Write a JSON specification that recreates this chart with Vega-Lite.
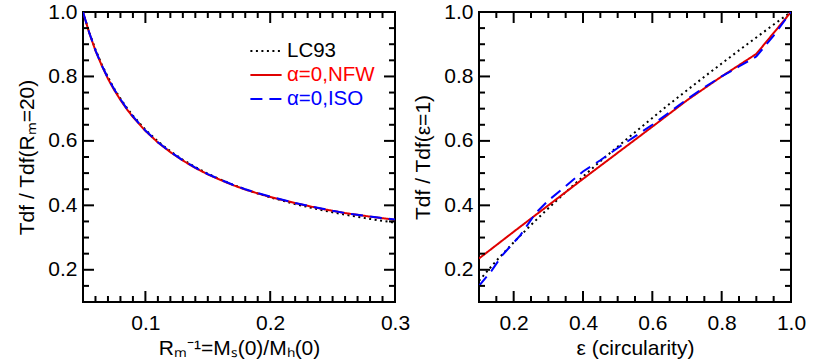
{
  "$schema": "https://vega.github.io/schema/vega-lite/v6.json",
  "background": "white",
  "padding": {"left": 15, "top": 0, "right": 0, "bottom": 0},
  "config": {
    "font": "Liberation Sans",
    "view": {"stroke": "black", "strokeWidth": 2},
    "axis": {
      "domain": false, "ticks": false, "grid": false,
      "labelFontSize": 21, "labelColor": "black", "labelFont": "Liberation Sans",
      "titleFontSize": 21, "titleFontWeight": "normal", "titleColor": "black", "titleFont": "Liberation Sans",
      "labelFlush": false, "labelOverlap": false, "format": ".1f"
    },
    "legend": {"labelFont": "Liberation Sans"}
  },
  "datasets": {
    "tA": [
      {"v": 0.2, "kind": "major"}, {"v": 0.4, "kind": "major"}, {"v": 0.6, "kind": "major"}, {"v": 0.8, "kind": "major"},
      {"v": 0.15, "kind": "minor"}, {"v": 0.25, "kind": "minor"}, {"v": 0.3, "kind": "minor"}, {"v": 0.35, "kind": "minor"}, {"v": 0.45, "kind": "minor"}, {"v": 0.5, "kind": "minor"}, {"v": 0.55, "kind": "minor"}, {"v": 0.65, "kind": "minor"}, {"v": 0.7, "kind": "minor"}, {"v": 0.75, "kind": "minor"}, {"v": 0.85, "kind": "minor"}, {"v": 0.9, "kind": "minor"}, {"v": 0.95, "kind": "minor"}
    ],
    "tB": [
      {"v": 0.1, "kind": "major"}, {"v": 0.2, "kind": "major"},
      {"v": 0.06, "kind": "minor"}, {"v": 0.07, "kind": "minor"}, {"v": 0.08, "kind": "minor"}, {"v": 0.09, "kind": "minor"}, {"v": 0.11, "kind": "minor"}, {"v": 0.12, "kind": "minor"}, {"v": 0.13, "kind": "minor"}, {"v": 0.14, "kind": "minor"}, {"v": 0.15, "kind": "minor"}, {"v": 0.16, "kind": "minor"}, {"v": 0.17, "kind": "minor"}, {"v": 0.18, "kind": "minor"}, {"v": 0.19, "kind": "minor"}, {"v": 0.21, "kind": "minor"}, {"v": 0.22, "kind": "minor"}, {"v": 0.23, "kind": "minor"}, {"v": 0.24, "kind": "minor"}, {"v": 0.25, "kind": "minor"}, {"v": 0.26, "kind": "minor"}, {"v": 0.27, "kind": "minor"}, {"v": 0.28, "kind": "minor"}, {"v": 0.29, "kind": "minor"}
    ],
    "left": [
      {"x": 0.05, "y": 1.0, "series": "LC93"}, {"x": 0.055, "y": 0.937, "series": "LC93"}, {"x": 0.06, "y": 0.8835, "series": "LC93"}, {"x": 0.065, "y": 0.8375, "series": "LC93"}, {"x": 0.07, "y": 0.7975, "series": "LC93"}, {"x": 0.075, "y": 0.7623, "series": "LC93"}, {"x": 0.08, "y": 0.7311, "series": "LC93"}, {"x": 0.085, "y": 0.7032, "series": "LC93"}, {"x": 0.09, "y": 0.6782, "series": "LC93"}, {"x": 0.1, "y": 0.6348, "series": "LC93"}, {"x": 0.11, "y": 0.5987, "series": "LC93"}, {"x": 0.12, "y": 0.5679, "series": "LC93"}, {"x": 0.13, "y": 0.5415, "series": "LC93"}, {"x": 0.14, "y": 0.5185, "series": "LC93"}, {"x": 0.15, "y": 0.4982, "series": "LC93"}, {"x": 0.16, "y": 0.4803, "series": "LC93"}, {"x": 0.17, "y": 0.4642, "series": "LC93"}, {"x": 0.18, "y": 0.4498, "series": "LC93"}, {"x": 0.19, "y": 0.4367, "series": "LC93"}, {"x": 0.2, "y": 0.4248, "series": "LC93"}, {"x": 0.22, "y": 0.4039, "series": "LC93"}, {"x": 0.24, "y": 0.3862, "series": "LC93"}, {"x": 0.25, "y": 0.3783, "series": "LC93"}, {"x": 0.26, "y": 0.371, "series": "LC93"}, {"x": 0.28, "y": 0.3577, "series": "LC93"}, {"x": 0.3, "y": 0.346, "series": "LC93"},
      {"x": 0.05, "y": 1.0, "series": "α=0,NFW"}, {"x": 0.055, "y": 0.935, "series": "α=0,NFW"}, {"x": 0.06, "y": 0.88, "series": "α=0,NFW"}, {"x": 0.065, "y": 0.834, "series": "α=0,NFW"}, {"x": 0.07, "y": 0.793, "series": "α=0,NFW"}, {"x": 0.075, "y": 0.758, "series": "α=0,NFW"}, {"x": 0.08, "y": 0.727, "series": "α=0,NFW"}, {"x": 0.085, "y": 0.699, "series": "α=0,NFW"}, {"x": 0.09, "y": 0.674, "series": "α=0,NFW"}, {"x": 0.1, "y": 0.631, "series": "α=0,NFW"}, {"x": 0.11, "y": 0.595, "series": "α=0,NFW"}, {"x": 0.12, "y": 0.565, "series": "α=0,NFW"}, {"x": 0.13, "y": 0.539, "series": "α=0,NFW"}, {"x": 0.14, "y": 0.516, "series": "α=0,NFW"}, {"x": 0.15, "y": 0.496, "series": "α=0,NFW"}, {"x": 0.16, "y": 0.479, "series": "α=0,NFW"}, {"x": 0.17, "y": 0.463, "series": "α=0,NFW"}, {"x": 0.18, "y": 0.449, "series": "α=0,NFW"}, {"x": 0.19, "y": 0.437, "series": "α=0,NFW"}, {"x": 0.2, "y": 0.426, "series": "α=0,NFW"}, {"x": 0.22, "y": 0.407, "series": "α=0,NFW"}, {"x": 0.24, "y": 0.39, "series": "α=0,NFW"}, {"x": 0.25, "y": 0.383, "series": "α=0,NFW"}, {"x": 0.26, "y": 0.376, "series": "α=0,NFW"}, {"x": 0.28, "y": 0.365, "series": "α=0,NFW"}, {"x": 0.3, "y": 0.355, "series": "α=0,NFW"},
      {"x": 0.05, "y": 1.0, "series": "α=0,ISO"}, {"x": 0.055, "y": 0.936, "series": "α=0,ISO"}, {"x": 0.06, "y": 0.881, "series": "α=0,ISO"}, {"x": 0.065, "y": 0.835, "series": "α=0,ISO"}, {"x": 0.07, "y": 0.795, "series": "α=0,ISO"}, {"x": 0.075, "y": 0.76, "series": "α=0,ISO"}, {"x": 0.08, "y": 0.729, "series": "α=0,ISO"}, {"x": 0.085, "y": 0.701, "series": "α=0,ISO"}, {"x": 0.09, "y": 0.676, "series": "α=0,ISO"}, {"x": 0.1, "y": 0.632, "series": "α=0,ISO"}, {"x": 0.11, "y": 0.596, "series": "α=0,ISO"}, {"x": 0.12, "y": 0.566, "series": "α=0,ISO"}, {"x": 0.13, "y": 0.54, "series": "α=0,ISO"}, {"x": 0.14, "y": 0.517, "series": "α=0,ISO"}, {"x": 0.15, "y": 0.497, "series": "α=0,ISO"}, {"x": 0.16, "y": 0.48, "series": "α=0,ISO"}, {"x": 0.17, "y": 0.464, "series": "α=0,ISO"}, {"x": 0.18, "y": 0.45, "series": "α=0,ISO"}, {"x": 0.19, "y": 0.438, "series": "α=0,ISO"}, {"x": 0.2, "y": 0.427, "series": "α=0,ISO"}, {"x": 0.22, "y": 0.407, "series": "α=0,ISO"}, {"x": 0.24, "y": 0.391, "series": "α=0,ISO"}, {"x": 0.25, "y": 0.383, "series": "α=0,ISO"}, {"x": 0.26, "y": 0.376, "series": "α=0,ISO"}, {"x": 0.28, "y": 0.365, "series": "α=0,ISO"}, {"x": 0.3, "y": 0.356, "series": "α=0,ISO"}
    ],
    "right": [
      {"x": 0.1, "y": 0.166, "series": "LC93"}, {"x": 0.15, "y": 0.228, "series": "LC93"}, {"x": 0.2, "y": 0.285, "series": "LC93"}, {"x": 0.25, "y": 0.339, "series": "LC93"}, {"x": 0.3, "y": 0.391, "series": "LC93"}, {"x": 0.35, "y": 0.441, "series": "LC93"}, {"x": 0.4, "y": 0.489, "series": "LC93"}, {"x": 0.45, "y": 0.537, "series": "LC93"}, {"x": 0.5, "y": 0.582, "series": "LC93"}, {"x": 0.55, "y": 0.627, "series": "LC93"}, {"x": 0.6, "y": 0.671, "series": "LC93"}, {"x": 0.65, "y": 0.715, "series": "LC93"}, {"x": 0.7, "y": 0.757, "series": "LC93"}, {"x": 0.75, "y": 0.799, "series": "LC93"}, {"x": 0.8, "y": 0.84, "series": "LC93"}, {"x": 0.85, "y": 0.881, "series": "LC93"}, {"x": 0.9, "y": 0.921, "series": "LC93"}, {"x": 0.95, "y": 0.961, "series": "LC93"}, {"x": 1.0, "y": 1.0, "series": "LC93"},
      {"x": 0.1, "y": 0.235, "series": "α=0,NFW"}, {"x": 0.2, "y": 0.318, "series": "α=0,NFW"}, {"x": 0.3, "y": 0.4, "series": "α=0,NFW"}, {"x": 0.4, "y": 0.482, "series": "α=0,NFW"}, {"x": 0.5, "y": 0.563, "series": "α=0,NFW"}, {"x": 0.6, "y": 0.644, "series": "α=0,NFW"}, {"x": 0.7, "y": 0.726, "series": "α=0,NFW"}, {"x": 0.8, "y": 0.8, "series": "α=0,NFW"}, {"x": 0.9, "y": 0.87, "series": "α=0,NFW"}, {"x": 1.0, "y": 1.0, "series": "α=0,NFW"},
      {"x": 0.1, "y": 0.15, "series": "α=0,ISO"}, {"x": 0.137, "y": 0.198, "series": "α=0,ISO"}, {"x": 0.167, "y": 0.245, "series": "α=0,ISO"}, {"x": 0.219, "y": 0.307, "series": "α=0,ISO"}, {"x": 0.263, "y": 0.375, "series": "α=0,ISO"}, {"x": 0.3, "y": 0.415, "series": "α=0,ISO"}, {"x": 0.354, "y": 0.463, "series": "α=0,ISO"}, {"x": 0.4, "y": 0.505, "series": "α=0,ISO"}, {"x": 0.45, "y": 0.54, "series": "α=0,ISO"}, {"x": 0.5, "y": 0.578, "series": "α=0,ISO"}, {"x": 0.55, "y": 0.614, "series": "α=0,ISO"}, {"x": 0.6, "y": 0.65, "series": "α=0,ISO"}, {"x": 0.65, "y": 0.689, "series": "α=0,ISO"}, {"x": 0.7, "y": 0.729, "series": "α=0,ISO"}, {"x": 0.75, "y": 0.766, "series": "α=0,ISO"}, {"x": 0.8, "y": 0.8, "series": "α=0,ISO"}, {"x": 0.85, "y": 0.831, "series": "α=0,ISO"}, {"x": 0.9, "y": 0.862, "series": "α=0,ISO"}, {"x": 0.95, "y": 0.927, "series": "α=0,ISO"}, {"x": 1.0, "y": 1.0, "series": "α=0,ISO"}
    ]
  },
  "spacing": 0,
  "resolve": {"scale": {"x": "independent", "y": "independent", "color": "independent", "strokeDash": "independent", "size": "independent"}},
  "hconcat": [
    {
      "width": 312, "height": 290,
      "resolve": {"axis": {"x": "independent", "y": "independent"}},
      "layer": [
        {
          "data": {"name": "left"},
          "mark": {"type": "line", "strokeWidth": 2, "clip": true},
          "encoding": {
            "x": {"field": "x", "type": "quantitative", "scale": {"domain": [0.05, 0.3], "nice": false, "zero": false},
              "axis": {"orient": "bottom", "values": [0.1, 0.2, 0.3], "labelPadding": 10, "title": "Rₘ⁻¹=Mₛ(0)/Mₕ(0)", "titlePadding": 4}},
            "y": {"field": "y", "type": "quantitative", "scale": {"domain": [0.1, 1.0], "nice": false, "zero": false},
              "axis": {"orient": "left", "values": [0.2, 0.4, 0.6, 0.8, 1.0], "labelPadding": 6, "title": "Tdf / Tdf(Rₘ=20)", "titlePadding": 10}},
            "color": {"field": "series", "type": "nominal",
              "scale": {"domain": ["LC93", "α=0,NFW", "α=0,ISO"], "range": ["#000000", "#e00000", "#0000ff"]},
              "legend": {"title": null, "orient": "none", "legendX": 170, "legendY": 26, "symbolType": "M-1.3,0H1.3", "symbolSize": 576, "symbolStrokeWidth": 2, "labelFontSize": 20.5, "rowPadding": -3, "labelOffset": 8, "padding": 0,
                "encode": {"labels": {"update": {"fill": {"signal": "datum.label == 'LC93' ? '#000000' : (indexof(datum.label, 'NFW') >= 0 ? '#ff0000' : '#0000ff')"}}}}}},
            "strokeDash": {"field": "series", "type": "nominal",
              "scale": {"domain": ["LC93", "α=0,NFW", "α=0,ISO"], "range": [[2, 3.5], [1, 0], [12, 7]]},
              "legend": {"title": null, "orient": "none", "legendX": 170, "legendY": 26, "symbolType": "M-1.3,0H1.3", "symbolSize": 576, "symbolStrokeWidth": 2, "labelFontSize": 20.5, "rowPadding": -3, "labelOffset": 8, "padding": 0,
                "encode": {"labels": {"update": {"fill": {"signal": "datum.label == 'LC93' ? '#000000' : (indexof(datum.label, 'NFW') >= 0 ? '#ff0000' : '#0000ff')"}}}}}}
          }
        },
        {
          "data": {"name": "tB"},
          "mark": {"type": "tick", "orient": "vertical", "thickness": 2, "clip": true, "color": "#000000", "opacity": 1},
          "encoding": {
            "x": {"field": "v", "type": "quantitative", "scale": {"domain": [0.05, 0.3], "nice": false, "zero": false}, "axis": null},
            "y": {"datum": 0.1, "type": "quantitative", "axis": null},
            "size": {"field": "kind", "type": "ordinal", "scale": {"domain": ["major", "minor"], "range": [22, 12]}, "legend": null}
          }
        },
        {
          "data": {"name": "tB"},
          "mark": {"type": "tick", "orient": "vertical", "thickness": 2, "clip": true, "color": "#000000", "opacity": 1},
          "encoding": {
            "x": {"field": "v", "type": "quantitative", "scale": {"domain": [0.05, 0.3], "nice": false, "zero": false}, "axis": null},
            "y": {"datum": 1.0, "type": "quantitative", "axis": null},
            "size": {"field": "kind", "type": "ordinal", "scale": {"domain": ["major", "minor"], "range": [22, 12]}, "legend": null}
          }
        },
        {
          "data": {"name": "tA"},
          "mark": {"type": "tick", "orient": "horizontal", "thickness": 2, "clip": true, "color": "#000000", "opacity": 1},
          "encoding": {
            "y": {"field": "v", "type": "quantitative", "scale": {"domain": [0.1, 1.0], "nice": false, "zero": false}, "axis": null},
            "x": {"datum": 0.05, "type": "quantitative", "axis": null},
            "size": {"field": "kind", "type": "ordinal", "scale": {"domain": ["major", "minor"], "range": [22, 12]}, "legend": null}
          }
        },
        {
          "data": {"name": "tA"},
          "mark": {"type": "tick", "orient": "horizontal", "thickness": 2, "clip": true, "color": "#000000", "opacity": 1},
          "encoding": {
            "y": {"field": "v", "type": "quantitative", "scale": {"domain": [0.1, 1.0], "nice": false, "zero": false}, "axis": null},
            "x": {"datum": 0.3, "type": "quantitative", "axis": null},
            "size": {"field": "kind", "type": "ordinal", "scale": {"domain": ["major", "minor"], "range": [22, 12]}, "legend": null}
          }
        }
      ]
    },
    {
      "width": 312, "height": 290,
      "resolve": {"axis": {"x": "independent", "y": "independent"}},
      "layer": [
        {
          "data": {"name": "right"},
          "mark": {"type": "line", "strokeWidth": 2, "clip": true},
          "encoding": {
            "x": {"field": "x", "type": "quantitative", "scale": {"domain": [0.1, 1.0], "nice": false, "zero": false},
              "axis": {"orient": "bottom", "values": [0.2, 0.4, 0.6, 0.8, 1.0], "labelPadding": 10, "title": "ε (circularity)", "titlePadding": 4}},
            "y": {"field": "y", "type": "quantitative", "scale": {"domain": [0.1, 1.0], "nice": false, "zero": false},
              "axis": {"orient": "left", "values": [0.2, 0.4, 0.6, 0.8, 1.0], "labelPadding": 6, "title": "Tdf / Tdf(ε=1)", "titlePadding": 10}},
            "color": {"field": "series", "type": "nominal",
              "scale": {"domain": ["LC93", "α=0,NFW", "α=0,ISO"], "range": ["#000000", "#e00000", "#0000ff"]}, "legend": null},
            "strokeDash": {"field": "series", "type": "nominal",
              "scale": {"domain": ["LC93", "α=0,NFW", "α=0,ISO"], "range": [[2, 3.5], [1, 0], [12, 7]]}, "legend": null}
          }
        },
        {
          "data": {"name": "tA"},
          "mark": {"type": "tick", "orient": "vertical", "thickness": 2, "clip": true, "color": "#000000", "opacity": 1},
          "encoding": {
            "x": {"field": "v", "type": "quantitative", "scale": {"domain": [0.1, 1.0], "nice": false, "zero": false}, "axis": null},
            "y": {"datum": 0.1, "type": "quantitative", "axis": null},
            "size": {"field": "kind", "type": "ordinal", "scale": {"domain": ["major", "minor"], "range": [22, 12]}, "legend": null}
          }
        },
        {
          "data": {"name": "tA"},
          "mark": {"type": "tick", "orient": "vertical", "thickness": 2, "clip": true, "color": "#000000", "opacity": 1},
          "encoding": {
            "x": {"field": "v", "type": "quantitative", "scale": {"domain": [0.1, 1.0], "nice": false, "zero": false}, "axis": null},
            "y": {"datum": 1.0, "type": "quantitative", "axis": null},
            "size": {"field": "kind", "type": "ordinal", "scale": {"domain": ["major", "minor"], "range": [22, 12]}, "legend": null}
          }
        },
        {
          "data": {"name": "tA"},
          "mark": {"type": "tick", "orient": "horizontal", "thickness": 2, "clip": true, "color": "#000000", "opacity": 1},
          "encoding": {
            "y": {"field": "v", "type": "quantitative", "scale": {"domain": [0.1, 1.0], "nice": false, "zero": false}, "axis": null},
            "x": {"datum": 0.1, "type": "quantitative", "axis": null},
            "size": {"field": "kind", "type": "ordinal", "scale": {"domain": ["major", "minor"], "range": [22, 12]}, "legend": null}
          }
        },
        {
          "data": {"name": "tA"},
          "mark": {"type": "tick", "orient": "horizontal", "thickness": 2, "clip": true, "color": "#000000", "opacity": 1},
          "encoding": {
            "y": {"field": "v", "type": "quantitative", "scale": {"domain": [0.1, 1.0], "nice": false, "zero": false}, "axis": null},
            "x": {"datum": 1.0, "type": "quantitative", "axis": null},
            "size": {"field": "kind", "type": "ordinal", "scale": {"domain": ["major", "minor"], "range": [22, 12]}, "legend": null}
          }
        }
      ]
    }
  ]
}
